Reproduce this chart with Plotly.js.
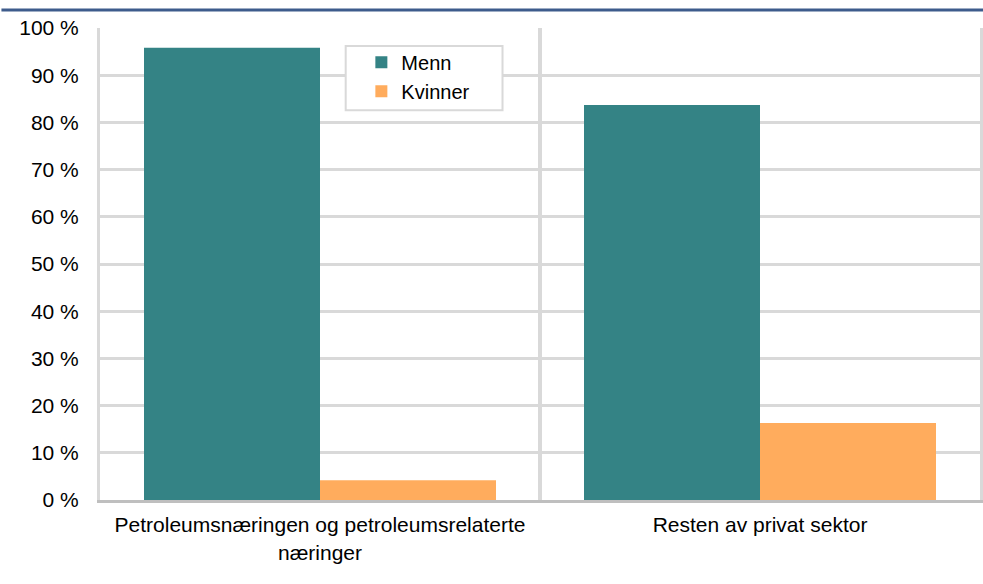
<!DOCTYPE html>
<html>
<head>
<meta charset="utf-8">
<script src="https://cdn.plot.ly/plotly-3.0.1.min.js"></script>
<style>
  html, body { margin: 0; padding: 0; background: #ffffff; }
  #chart { width: 983px; height: 584px; }
</style>
</head>
<body>
<div id="chart"></div>
<script>
const categories = ["Petroleumsnæringen og petroleumsrelaterte<br>næringer", "Resten av privat sektor"];
const menn = [95.8, 83.7];
const kvinner = [4.2, 16.3];
const seriesNames = ["Menn", "Kvinner"];
const yTicks = [0, 10, 20, 30, 40, 50, 60, 70, 80, 90, 100];

const font = { family: "'Liberation Sans', Arial, sans-serif", size: 21, color: "#000000" };

const traces = [
  { type: "bar", name: seriesNames[0], x: categories, y: menn, marker: { color: "#348385" }, hoverinfo: "y" },
  { type: "bar", name: seriesNames[1], x: categories, y: kvinner, marker: { color: "#FFAC5D" }, hoverinfo: "y" }
];

const layout = {
  width: 983, height: 584,
  margin: { l: 100, r: 3, t: 28, b: 84 },
  paper_bgcolor: "#ffffff",
  plot_bgcolor: "#ffffff",
  font: font,
  barmode: "group",
  bargap: 0.2,
  bargroupgap: 0,
  showlegend: true,
  legend: {
    x: 0.297, y: 0.969, xanchor: "left", yanchor: "top",
    bgcolor: "rgba(0,0,0,0)", borderwidth: 0,
    font: { family: font.family, size: 20, color: "#000000" }, tracegroupgap: 0
  },
  xaxis: {
    type: "category",
    range: [-0.5, 1.5],
    tickson: "boundaries",
    ticks: "",
    showgrid: true, gridcolor: "#d9d9d9", gridwidth: 4,
    showline: true, linecolor: "#bfbfbf", linewidth: 3,
    tickfont: font,
    ticklabelstandoff: 4,
    fixedrange: true
  },
  yaxis: {
    range: [0, 100],
    tickvals: yTicks,
    ticktext: yTicks.map(v => v + " %"),
    ticks: "",
    showgrid: true, gridcolor: "#d9d9d9", gridwidth: 3,
    zeroline: false,
    showline: true, mirror: true, linecolor: "#d9d9d9", linewidth: 3,
    tickfont: font,
    ticklabelstandoff: 14,
    fixedrange: true
  },
  shapes: [
    { type: "line", xref: "paper", yref: "paper", x0: -0.112, x1: 1.01, y0: 1.038, y1: 1.038,
      line: { color: "#3E5C8C", width: 3 } },
    { type: "rect", xref: "paper", yref: "paper", layer: "above",
      x0: 0.2792, x1: 0.4574, y0: 0.826, y1: 0.962,
      fillcolor: "#ffffff", line: { color: "#d9d9d9", width: 2 } }
  ]
};

Plotly.newPlot("chart", traces, layout, { displayModeBar: false, staticPlot: true });
</script>
</body>
</html>
